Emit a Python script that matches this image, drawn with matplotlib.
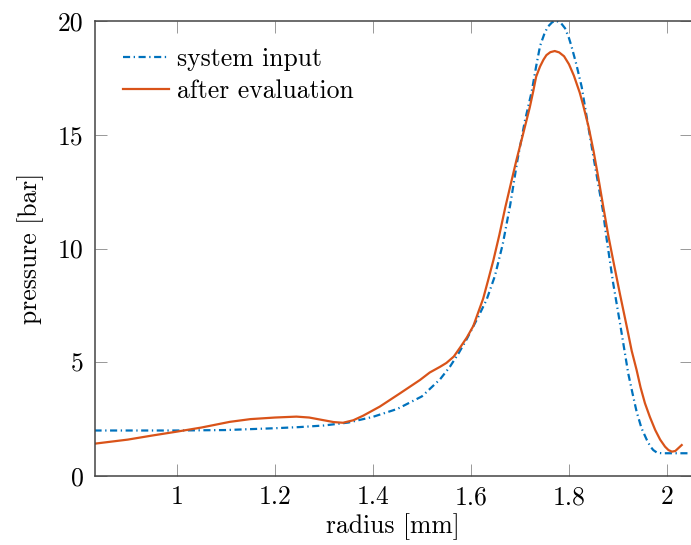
import matplotlib
matplotlib.use("Agg")
import matplotlib.pyplot as plt

plt.rcParams['font.family'] = 'serif'
plt.rcParams['font.serif'] = ['cmr10']
plt.rcParams['mathtext.fontset'] = 'cm'
plt.rcParams['axes.formatter.use_mathtext'] = True

# system input
x_input = [0.832, 0.9, 1.0, 1.1, 1.2, 1.25, 1.3, 1.35, 1.4, 1.45, 1.5, 1.537, 1.557, 1.575,
           1.591, 1.615, 1.632, 1.649, 1.665, 1.68, 1.695, 1.71, 1.724, 1.733, 1.741, 1.75,
           1.757, 1.766, 1.775, 1.784, 1.792, 1.8, 1.805, 1.815, 1.826, 1.843, 1.855, 1.869,
           1.877, 1.89, 1.905, 1.921, 1.93, 1.938, 1.948, 1.959, 1.966, 1.972, 1.98, 1.99, 2.05]
y_input = [2.0, 2.0, 2.0, 2.02, 2.1, 2.15, 2.22, 2.35, 2.6, 2.95, 3.5, 4.25, 4.8, 5.4,
           6.0, 7.0, 7.75, 8.8, 10.2, 11.9, 13.9, 15.6, 16.9, 18.0, 18.9, 19.45,
           19.75, 19.95, 20.0, 19.9, 19.68, 19.25, 18.9, 18.1, 17.1, 14.9, 13.4, 11.7,
           10.4, 8.5, 6.6, 4.5, 3.6, 2.83, 2.1, 1.58, 1.3, 1.14, 1.02, 1.0, 1.0]

# after evaluation
x_eval = [0.832, 0.9, 0.95, 1.0, 1.05, 1.108, 1.15, 1.2, 1.244, 1.27, 1.3, 1.32, 1.339,
          1.36, 1.38, 1.414, 1.455, 1.496, 1.516, 1.537, 1.55, 1.565, 1.578, 1.592, 1.605,
          1.615, 1.625, 1.635, 1.646, 1.658, 1.67, 1.682, 1.693, 1.706, 1.72, 1.727, 1.733,
          1.741, 1.748, 1.754, 1.762, 1.771, 1.78, 1.79, 1.8, 1.81, 1.822, 1.829, 1.84,
          1.85, 1.86, 1.87, 1.88, 1.89, 1.904, 1.918, 1.928, 1.938, 1.946, 1.955, 1.965,
          1.976, 1.986, 1.996, 2.003, 2.01, 2.017, 2.023, 2.03]
y_eval = [1.42, 1.6, 1.78, 1.95, 2.13, 2.38, 2.5, 2.57, 2.61, 2.57, 2.45, 2.37, 2.34,
          2.45, 2.65, 3.05, 3.63, 4.22, 4.55, 4.8, 4.97, 5.25, 5.65, 6.1, 6.6,
          7.2, 7.8, 8.6, 9.5, 10.6, 11.8, 12.9, 13.9, 15.0, 16.2, 16.9, 17.55,
          18.0, 18.3, 18.5, 18.63, 18.68, 18.62, 18.45, 18.1, 17.6, 16.85, 16.3, 15.35,
          14.3, 13.1, 11.84, 10.6, 9.5, 8.0, 6.56, 5.5, 4.66, 3.9, 3.2, 2.6,
          2.02, 1.6, 1.29, 1.14, 1.07, 1.1, 1.22, 1.36]

xticks = [1, 1.2, 1.4, 1.6, 1.8, 2]
xtick_labels = ['1', '1.2', '1.4', '1.6', '1.8', '2']
yticks = [0, 5, 10, 15, 20]
ytick_labels = ['0', '5', '10', '15', '20']

FS = 18.5

fig = plt.figure(figsize=(6.91, 5.45), dpi=100)
ax = fig.add_axes([94.5 / 691, 69 / 545, (691.5 - 94.5) / 691, (476 - 21) / 545])

ax.plot(x_input, y_input, color='#0072BD', lw=1.6,
        linestyle=(0, (3.2, 1.6, 0.6, 1.6)), label='system input')
ax.plot(x_eval, y_eval, color='#D95319', lw=1.6, label='after evaluation')

ax.set_xlim(0.832, 2.05)
ax.set_ylim(0, 20)
ax.set_xticks(xticks)
ax.set_xticklabels(xtick_labels)
ax.set_yticks(yticks)
ax.set_yticklabels(ytick_labels)

ax.tick_params(direction='in', length=8.5, width=0.6, color='#888888',
               labelsize=FS, top=True, right=True)
ax.tick_params(axis='y', pad=8)
ax.tick_params(axis='x', pad=7)
for s in ax.spines.values():
    s.set_color('#444444')
    s.set_linewidth(1.1)

ax.set_xlabel('radius [mm]', fontsize=FS, labelpad=3)
ax.set_ylabel('pressure [bar]', fontsize=FS, labelpad=10)

leg = ax.legend(loc='upper left', frameon=False, fontsize=FS, handlelength=1.8,
                handletextpad=0.3, labelspacing=0.3, borderaxespad=0.0,
                bbox_to_anchor=(0.03, 0.964))

fig.savefig('out.png', dpi=100)
